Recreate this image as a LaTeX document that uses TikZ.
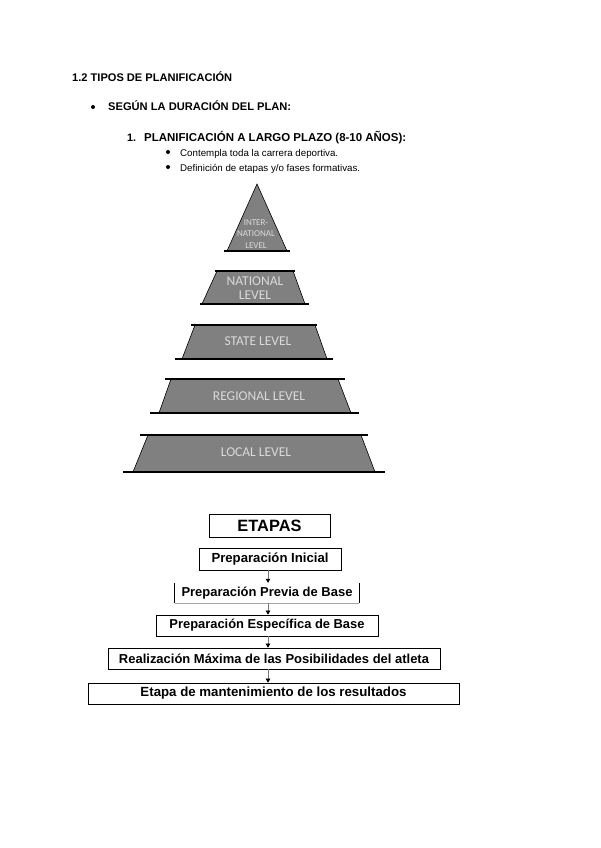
\documentclass[tikz,border=0pt]{standalone}
\usepackage{fontspec}
\setmainfont{Liberation Sans}
\newfontfamily\calib{Carlito}
\usetikzlibrary{arrows.meta}
\definecolor{pyrgray}{RGB}{128,128,128}
\definecolor{lbltext}{RGB}{218,218,218}
\definecolor{arrgray}{RGB}{120,120,120}
\begin{document}
\begin{tikzpicture}[x=1pt,y=-1pt,
  txt/.style={anchor=base west, inner sep=0pt},
  dot/.style={circle, fill=black, inner sep=0pt, minimum size=4pt},
  pyr/.style={fill=pyrgray},
  side/.style={draw=black, line width=0.6pt},
  rim/.style={draw=black, line width=1.3pt},
  lbl/.style={font=\calib\fontsize{13.5}{14}\selectfont, text=lbltext, inner sep=0pt, align=center},
  slbl/.style={font=\calib\fontsize{9}{11.5}\selectfont, text=lbltext, inner sep=0pt, align=center},
  stagebox/.style={draw=black, line width=0.7pt, inner sep=0pt},
  arr/.style={draw=arrgray, line width=0.5pt, -{Triangle[black,length=4pt,width=4.5pt]}}
]
\useasboundingbox (0,0) rectangle (600,848);

% ---------- header text ----------
\node[txt] (h1) at (72,82) {\resizebox{160pt}{!}{\bfseries 1.2 TIPOS DE PLANIFICACIÓN}};
\node[dot] (b1) at (93,107) {};
\node[txt] (h2) at (108,111) {\resizebox{183pt}{!}{\bfseries SEGÚN LA DURACIÓN DEL PLAN:}};
\node[txt] (n1) at (127,141) {\resizebox{9pt}{!}{\bfseries 1.}};
\node[txt] (h3) at (144,141) {\resizebox{262pt}{!}{\bfseries PLANIFICACIÓN A LARGO PLAZO (8-10 AÑOS):}};
\node[dot] (b2) at (168,152) {};
\node[txt] (t1) at (180,156) {\resizebox{158pt}{!}{Contempla toda la carrera deportiva.}};
\node[dot] (b3) at (168,167) {};
\node[txt] (t2) at (180,171) {\resizebox{180pt}{!}{Definición de etapas y/o fases formativas.}};

% ---------- pyramid ----------
% top triangle
\fill[pyr] (227,251) -- (257,184) -- (287,251) -- cycle;
\draw[side] (227,251) -- (257,184) -- (287,251);
\draw[rim] (224,251) -- (290,251);
\node[slbl] (lint) at (256,234) {INTER-\\NATIONAL\\LEVEL};

% national
\fill[pyr] (217,271) -- (293,271) -- (305,304) -- (202,304) -- cycle;
\draw[side] (217,271) -- (202,304) (293,271) -- (305,304);
\draw[rim] (215,271) -- (295,271) (200,304) -- (309,304);
\node[lbl] (lnat) at (255,288) {NATIONAL\\LEVEL};

% state
\fill[pyr] (195,325) -- (315,325) -- (327,359) -- (182,359) -- cycle;
\draw[side] (195,325) -- (182,359) (315,325) -- (327,359);
\draw[rim] (191,325) -- (317,325) (175,359) -- (333,359);
\node[lbl] (lsta) at (258,341) {STATE LEVEL};

% regional
\fill[pyr] (171,379) -- (338,379) -- (351,413) -- (159,413) -- cycle;
\draw[side] (171,379) -- (159,413) (338,379) -- (351,413);
\draw[rim] (165,379) -- (345,379) (150,413) -- (359,413);
\node[lbl] (lreg) at (259,396) {REGIONAL LEVEL};

% local
\fill[pyr] (148,435) -- (361,435) -- (375,472) -- (133,472) -- cycle;
\draw[side] (148,435) -- (133,472) (361,435) -- (375,472);
\draw[rim] (140,435) -- (368,435) (123,472) -- (385,472);
\node[lbl] (lloc) at (256,452) {LOCAL LEVEL};

% ---------- stages ----------
\node[stagebox, minimum width=121pt, minimum height=23pt] (etapas) at (269.5,525.5)
  {\resizebox{64pt}{!}{\bfseries ETAPAS}};
\node[stagebox, minimum width=142pt, minimum height=22pt] (ini) at (270,559)
  {\resizebox{117pt}{!}{\bfseries Preparación Inicial}};
\node[inner sep=0pt, minimum width=184pt, minimum height=20pt] (prev) at (267,593)
  {\resizebox{171pt}{!}{\bfseries Preparación Previa de Base}};
\draw[black, line width=0.7pt] (prev.north west) -- (prev.south west);
\draw[black, line width=0.7pt] (prev.north east) -- (prev.south east);
\draw[gray!70, line width=0.7pt] (prev.south west) -- (prev.south east);
\node[stagebox, minimum width=222pt, minimum height=21pt] (esp) at (267,625.5)
  {\resizebox{195pt}{!}{\bfseries Preparación Específica de Base}};
\node[stagebox, minimum width=332pt, minimum height=21pt] (rea) at (274,658.5)
  {\resizebox{310pt}{!}{\bfseries Realización Máxima de las Posibilidades del atleta}};
\node[stagebox, minimum width=371pt, minimum height=21pt] (eta) at (273.5,693.5)
  {\resizebox{266pt}{!}{\bfseries Etapa de mantenimiento de los resultados}};

\coordinate (ax) at (268,0);
\draw[arr] (ini.south -| ax) -- (prev.north -| ax);
\draw[arr] (prev.south -| ax) -- (esp.north -| ax);
\draw[arr] (esp.south -| ax) -- (rea.north -| ax);
\draw[arr] (rea.south -| ax) -- (eta.north -| ax);
\end{tikzpicture}
\end{document}
